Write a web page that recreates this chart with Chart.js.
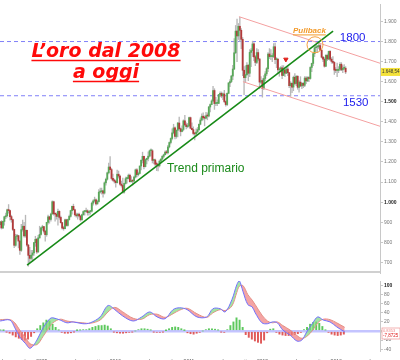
<!DOCTYPE html>
<html>
<head>
<meta charset="utf-8">
<title>L'oro dal 2008 a oggi</title>
<script src="https://cdn.jsdelivr.net/npm/chart.js@4.4.1/dist/chart.umd.min.js"></script>
<style>
  body { margin: 0; background: #fff; }
  .panel { position: absolute; left: 0; }
</style>
</head>
<body>
<canvas id="price" class="panel" width="400" height="277" style="top:0"></canvas>
<canvas id="osc" class="panel" width="400" height="83" style="top:277px"></canvas>
<script>
// weekly gold candles, first week of Jun 2008 -> mid Feb 2013 (USD/oz)
const opens = [
  888,902,872,904,927,932,962,958,928,913, 864,785,829,833,806,760,863,880,832,860,
  786,735,720,736,747,798,815,752,822,839, 872,878,855,838,899,927,914,941,1002,942,
  940,929,954,924,898,871,868,912,884,913, 929,958,979,962,937,932,940,931,912,937,
  953,953,957,948,953,955,995,1006,1012,991, 1003,1050,1052,1056,1045,1096,1114,1146,1175,1162,
  1118,1110,1104,1097,1139,1130,1090,1083,1050,1093, 1117,1118,1134,1102,1107,1105,1125,1161,1137,1143,
  1180,1209,1228,1177,1212,1218,1229,1256,1256,1208, 1210,1189,1188,1181,1204,1215,1228,1236,1249,1246,
  1275,1297,1317,1345,1370,1327,1358,1394,1366,1352, 1362,1405,1385,1376,1380,1421,1368,1361,1342,1340,
  1349,1361,1388,1409,1428,1420,1418,1430,1429,1474, 1486,1504,1556,1491,1492,1492,1536,1542,1529,1539,
  1501,1486,1542,1594,1601,1628,1663,1744,1852,1828, 1876,1856,1811,1657,1620,1635,1682,1642,1746,1755,
  1788,1724,1696,1745,1713,1598,1606,1566,1616,1639, 1665,1738,1725,1725,1725,1774,1710,1712,1659,1662,
  1669,1631,1659,1642,1663,1645,1580,1592,1573,1622, 1591,1627,1572,1598,1579,1592,1582,1618,1604,1621,
  1616,1671,1691,1740,1769,1773,1773,1780,1757,1722, 1712,1677,1731,1713,1751,1712,1701,1696,1658,1656,
  1656,1662,1687,1659,1667,1667
];
const highs = [
  905,908,906,930,946,966,988,960,935,915, 866,840,840,835,810,890,910,900,935,860,
  790,775,760,760,800,830,820,835,880,875, 885,880,860,900,935,930,945,1006,1005,945,
  947,965,957,930,900,880,915,915,915,935, 960,980,990,965,945,945,945,935,940,957,
  958,970,962,955,957,1000,1012,1025,1016,1010, 1062,1070,1070,1060,1101,1120,1150,1195,1227,1168,
  1140,1115,1110,1160,1155,1135,1105,1120,1095,1125, 1125,1140,1140,1127,1110,1130,1165,1167,1150,1180,
  1210,1249,1230,1215,1220,1250,1260,1265,1262,1215, 1215,1200,1190,1210,1215,1232,1240,1255,1258,1283,
  1300,1320,1365,1388,1375,1360,1398,1424,1370,1380, 1410,1432,1395,1392,1424,1424,1395,1375,1345,1365,
  1372,1390,1420,1440,1445,1430,1447,1445,1477,1490, 1510,1577,1565,1522,1510,1537,1550,1549,1545,1557,
  1505,1545,1595,1610,1632,1682,1815,1880,1912,1890, 1921,1865,1820,1675,1680,1695,1685,1760,1765,1802,
  1795,1730,1765,1760,1715,1625,1615,1630,1650,1670, 1745,1765,1760,1740,1790,1792,1720,1715,1670,1675,
  1680,1680,1660,1670,1675,1645,1600,1595,1628,1640, 1630,1630,1605,1625,1595,1595,1625,1625,1625,1625,
  1675,1693,1740,1775,1785,1780,1796,1790,1760,1725, 1720,1735,1737,1752,1755,1720,1725,1700,1670,1693,
  1675,1695,1695,1680,1685,1675
];
const lows = [
  870,866,868,885,918,925,945,910,900,858, 773,780,815,772,740,755,855,825,825,780,
  681,700,712,705,735,780,745,750,820,835, 860,845,805,830,890,895,905,940,935,905,
  915,885,915,895,865,860,866,880,880,910, 925,940,960,930,925,915,925,905,910,935,
  935,950,935,935,940,950,985,1000,985,990, 1000,1045,1040,1025,1040,1085,1110,1140,1170,1110,
  1105,1095,1075,1095,1120,1085,1075,1045,1045,1090, 1095,1115,1100,1100,1085,1100,1120,1125,1130,1140,
  1160,1195,1165,1175,1190,1205,1225,1230,1195,1190, 1180,1157,1155,1175,1195,1210,1220,1235,1240,1240,
  1270,1290,1310,1340,1315,1318,1325,1360,1330,1350, 1355,1380,1365,1370,1375,1365,1360,1335,1310,1330,
  1345,1355,1385,1405,1410,1380,1415,1410,1425,1450, 1485,1500,1462,1480,1480,1490,1525,1520,1510,1495,
  1478,1480,1540,1575,1595,1610,1660,1740,1700,1810, 1800,1765,1630,1535,1600,1630,1605,1625,1675,1725,
  1705,1680,1690,1705,1565,1590,1523,1560,1605,1630, 1650,1715,1710,1700,1720,1690,1670,1640,1627,1650,
  1615,1630,1625,1640,1630,1570,1527,1545,1555,1585, 1580,1562,1548,1575,1565,1570,1575,1590,1600,1600,
  1612,1650,1680,1725,1750,1745,1765,1755,1718,1700, 1672,1675,1705,1710,1705,1692,1690,1636,1645,1625,
  1645,1655,1655,1645,1660,1640
];
const closes = [
  902,872,904,927,932,962,958,928,913,864, 785,829,833,806,760,863,880,832,860,786,
  735,720,736,747,798,815,752,822,839,872, 878,855,838,899,927,914,941,1002,942,940,
  929,954,924,898,871,868,912,884,913,929, 958,979,962,937,932,940,931,912,937,953,
  953,957,948,953,955,995,1006,1012,991,1003, 1050,1052,1056,1045,1096,1114,1146,1175,1162,1118,
  1110,1104,1097,1139,1130,1090,1083,1050,1093,1117, 1118,1134,1102,1107,1105,1125,1161,1137,1143,1180,
  1209,1228,1177,1212,1218,1229,1256,1256,1208,1210, 1189,1188,1181,1204,1215,1228,1236,1249,1246,1275,
  1297,1317,1345,1370,1327,1358,1394,1366,1352,1362, 1405,1385,1376,1380,1421,1368,1361,1342,1340,1349,
  1361,1388,1409,1428,1420,1418,1430,1429,1474,1486, 1504,1556,1491,1492,1492,1536,1542,1529,1539,1501,
  1486,1542,1594,1601,1628,1663,1744,1852,1828,1876, 1856,1811,1657,1620,1635,1682,1642,1746,1755,1788,
  1724,1696,1745,1713,1598,1606,1566,1616,1639,1665, 1738,1725,1725,1725,1774,1710,1712,1659,1662,1669,
  1631,1659,1642,1663,1645,1580,1592,1573,1622,1591, 1627,1572,1598,1579,1592,1582,1618,1604,1621,1616,
  1671,1691,1740,1769,1773,1773,1780,1757,1722,1712, 1677,1731,1713,1751,1712,1701,1696,1658,1656,1656,
  1662,1687,1659,1667,1667,1648.54
];
const weekStart = 5.2;        // months counted from Jan 2008
const weekStep = 7 / 30.44;

const priceTicks = [700, 800, 900, 1000, 1100, 1200, 1300, 1400, 1500, 1600, 1700, 1800, 1900];
const levels = [1800, 1530];
const trendLine = [[9.6, 686], [59.5, 1852]];
const channelHigh = [[44.15, 1924], [67.15, 1692]];
const channelLow = [[44.8, 1600], [67.15, 1378]];
const pullbackAt = [56.55, 1784];
const signalAt = [51.8, 1711];

const monthTicks = [6, 9, 12, 15, 18, 21, 24, 27, 30, 33, 36, 39, 42, 45, 48, 51, 54, 57, 60, 63, 66];
const monthLabels = ['lug', 'ott', '2009', 'apr', 'lug', 'ott', '2010', 'apr', 'lug', 'ott', '2011',
  'apr', 'lug', 'ott', '2012', 'apr', 'lug', 'ott', '2013', 'apr', 'lug'];

// oscillator (lower panel)
const oscMonths = [5.2, 6.8, 7.6, 8.4, 9.3, 10.1, 11.2, 12.2, 13.3, 13.8, 15.0, 16.1, 17.1, 18.7, 19.9,
  21.5, 22.8, 23.9, 25.2, 26.9, 28.3, 29.6, 30.8, 32.1, 33.4, 34.5, 35.7, 37.3, 38.9, 39.9, 41.1, 41.9,
  43.0, 43.8, 44.2, 44.8, 45.6, 46.3, 46.8, 47.9, 48.8, 49.6, 50.4, 51.3, 52.5, 53.6, 54.4, 55.2, 56.2,
  57.0, 57.9, 59.0, 60.1, 61.4];
const oscFast = [22, 24, 7, -13, -27, -38, -20, 7, 27, 29, 24, 18, 20, 16, 18, 31, 56, 47, 33, 22,
  31, 42, 31, 27, 47, 51, 47, 31, 31, 49, 49, 42, 69, 102, 111, 87, 58, 53, 40, 18,
  16, 20, 18, 2, -9, -22, -20, -2, 18, 31, 24, 20, 9, -2];
const oscSlow = [25, 25, 18, 2, -14, -28, -30, -12, 10, 18, 26, 22, 20, 18, 17, 24, 42, 52, 42, 28,
  26, 36, 37, 30, 38, 46, 50, 38, 30, 40, 47, 45, 55, 85, 98, 100, 80, 68, 58, 35,
  22, 18, 20, 12, 2, -10, -16, -12, 2, 18, 26, 25, 18, 8];
const histStart = 5.25;
const histValues = [2, 1, -2, -5, -9, -13, -16, -19, -20, -18, -12, -4,
  5, 12, 18, 24, 22, 15, 8, 2, -3, -5, -5, -4,
  -2, 1, 2, 3, 3, 5, 8, 10, 12, 12, 13, 11,
  5, -2, -4, -5, -5, -4, -3, -2, 0, 3, 5, 5,
  4, 2, -2, -3, -3, -2, 1, 5, 8, 9, 8, 5,
  1, -4, -6, -7, -5, -3, 0, 3, 5, 5, 4, 2,
  -2, -3, 3, 12, 20, 29, 24, 8, -8, -14, -18, -22,
  -25, -27, -20, -4, 4, 5, -3, -7, -9, -10, -10, -9,
  -8, -6, -3, 3, 8, 15, 19, 20, 17, 10, 2, -3,
  -7, -9, -10, -9, -7];
const oscTicks = [-40, -20, 0, 20, 40, 60, 80, 100];

const xMin = 5.18, xMax = 67.15;
const axisGray = '#c8c8c8';

function itNum(v) {
  if (Math.abs(v) < 1000) return String(v);
  return Math.floor(v / 1000) + '.' + String(v % 1000).padStart(3, '0');
}

function tickVal(c) {
  return c && c.tick ? c.tick.value : null;
}

function tickFont(bold) {
  return { family: 'Liberation Sans', size: 5, weight: bold ? 'bold' : 'normal' };
}

function underlined(ctx, text, x, y, lineY, lw) {
  ctx.fillText(text, x, y);
  const w = ctx.measureText(text).width;
  let x0 = x;
  if (ctx.textAlign === 'center') x0 = x - w / 2;
  ctx.lineWidth = lw;
  ctx.beginPath();
  ctx.moveTo(x0, lineY);
  ctx.lineTo(x0 + w, lineY);
  ctx.stroke();
}

const weekMonths = closes.map((c, i) => weekStart + i * weekStep);
const pts = arr => arr.map(p => ({ x: p[0], y: p[1] }));

const priceNotes = {
  id: 'priceNotes',
  afterDraw(chart) {
    const { ctx, scales: { x, y }, chartArea } = chart;
    ctx.save();

    // title
    ctx.fillStyle = '#ff0a0a';
    ctx.strokeStyle = '#ff0a0a';
    ctx.font = 'italic bold 19px "DejaVu Sans"';
    ctx.textAlign = 'center';
    underlined(ctx, 'L’oro dal 2008', 106, 57, 60.5, 1.6);
    underlined(ctx, 'a oggi', 106, 78, 81.5, 1.6);

    // level labels
    ctx.fillStyle = '#2020ee';
    ctx.font = '11.5px "Liberation Sans"';
    ctx.textAlign = 'left';
    ctx.fillText('1800', x.getPixelForValue(60.6), y.getPixelForValue(levels[0]) - 1);
    ctx.fillText('1530', x.getPixelForValue(61.1), y.getPixelForValue(levels[1]) + 10.5);

    // pullback
    ctx.fillStyle = '#f39a2a';
    ctx.strokeStyle = '#f39a2a';
    ctx.font = 'italic bold 8px "Liberation Sans"';
    const pbY = y.getPixelForValue(1842);
    underlined(ctx, 'Pullback', x.getPixelForValue(52.96), pbY, pbY + 1.8, 1);

    // trend label
    ctx.fillStyle = '#1a8a1a';
    ctx.font = '12px "Liberation Sans"';
    ctx.fillText('Trend primario', x.getPixelForValue(32.4), y.getPixelForValue(1150));

    // last price box
    const last = closes[closes.length - 1];
    const ly = y.getPixelForValue(last);
    ctx.fillStyle = '#f4e23a';
    ctx.fillRect(chartArea.right + 1, ly - 4, 19, 8);
    ctx.fillStyle = '#333';
    ctx.font = '4.5px "Liberation Sans"';
    ctx.textBaseline = 'middle';
    ctx.fillText('1.648,54', chartArea.right + 2, ly);

    // panel separator
    ctx.strokeStyle = '#d0d0d0';
    ctx.lineWidth = 2;
    ctx.beginPath();
    ctx.moveTo(0, chartArea.bottom - 1);
    ctx.lineTo(chartArea.right, chartArea.bottom - 1);
    ctx.stroke();
    ctx.restore();
  }
};

new Chart(document.getElementById('price'), {
  type: 'bar',
  data: {
    datasets: [
      {
        type: 'line', data: pts([pullbackAt]), showLine: false, pointRadius: 8,
        pointBorderColor: '#f5a040', pointBackgroundColor: 'rgba(0,0,0,0)', pointBorderWidth: 1, order: 0
      },
      {
        type: 'line', data: pts([signalAt]), showLine: false, pointStyle: 'triangle', rotation: 180,
        pointRadius: 2.5, pointBackgroundColor: '#e0201a', pointBorderColor: '#e0201a', order: 0
      },
      {
        type: 'line', data: pts(trendLine), borderColor: '#178a17', borderWidth: 1.6,
        pointRadius: 0, order: 1
      },
      {
        type: 'line', data: pts(channelHigh), borderColor: '#f4a0a0', borderWidth: 1,
        pointRadius: 0, order: 2
      },
      {
        type: 'line', data: pts(channelLow), borderColor: '#f4a0a0', borderWidth: 1,
        pointRadius: 0, order: 2
      },
      {
        data: weekMonths.map((m, i) => ({ x: m, y: [opens[i], closes[i]] })),
        backgroundColor: closes.map((c, i) => c >= opens[i] ? '#58a858' : '#b23a3a'),
        barThickness: 1.2, minBarLength: 1, grouped: false, order: 5
      },
      {
        data: weekMonths.map((m, i) => ({ x: m, y: [lows[i], highs[i]] })),
        backgroundColor: '#b8b8b8', barThickness: 0.7, grouped: false, order: 6
      },
      ...levels.map(v => ({
        type: 'line', data: [{ x: xMin, y: v }, { x: xMax, y: v }], borderColor: '#8080f8',
        borderWidth: 1, borderDash: [4, 3], pointRadius: 0, order: 7
      }))
    ]
  },
  options: {
    responsive: false,
    animation: false,
    events: [],
    layout: { padding: 0, autoPadding: false },
    plugins: { legend: { display: false }, tooltip: { enabled: false } },
    scales: {
      x: { type: 'linear', min: xMin, max: xMax, offset: false, display: false },
      y: {
        position: 'right', min: 647, max: 1987,
        afterBuildTicks: s => { s.ticks = priceTicks.map(v => ({ value: v })); },
        afterFit: s => { s.width = 20; },
        grid: { drawOnChartArea: false, tickLength: 3, color: axisGray },
        border: { color: axisGray },
        ticks: {
          padding: 1,
          color: c => [1000, 1500].includes(tickVal(c)) ? '#222' : '#777',
          font: c => tickFont([1000, 1500].includes(tickVal(c))),
          callback: v => itNum(v)
        }
      }
    }
  },
  plugins: [priceNotes]
});

const oscNotes = {
  id: 'oscNotes',
  afterDraw(chart) {
    const { ctx, scales: { y }, chartArea } = chart;
    const zy = y.getPixelForValue(0);
    ctx.save();
    ctx.fillStyle = '#fff';
    ctx.strokeStyle = '#f0a0a0';
    ctx.lineWidth = 0.8;
    ctx.fillRect(chartArea.right + 2, zy - 3, 18, 11);
    ctx.strokeRect(chartArea.right + 2, zy - 3, 18, 11);
    ctx.font = '4px "Liberation Sans"';
    ctx.textBaseline = 'middle';
    ctx.fillStyle = '#e88';
    ctx.fillText('0,8353', chartArea.right + 3, zy);
    ctx.fillStyle = '#e02020';
    ctx.font = '4.5px "Liberation Sans"';
    ctx.fillText('-7,8725', chartArea.right + 3, zy + 5);
    ctx.restore();
  }
};

new Chart(document.getElementById('osc'), {
  type: 'bar',
  data: {
    datasets: [
      {
        type: 'line', data: oscMonths.map((m, i) => ({ x: m, y: oscFast[i] })),
        borderColor: '#7070ff', borderWidth: 1, pointRadius: 0, tension: 0.35,
        fill: { target: 1, above: 'rgba(125,215,125,0.7)', below: 'rgba(240,125,125,0.7)' }, order: 1
      },
      {
        type: 'line', data: oscMonths.map((m, i) => ({ x: m, y: oscSlow[i] })),
        borderColor: '#f28a8a', borderWidth: 1, pointRadius: 0, tension: 0.35, fill: false, order: 2
      },
      {
        data: histValues.map((v, i) => ({ x: histStart + i * 0.5, y: v })),
        backgroundColor: histValues.map(v => v >= 0 ? '#5cc85c' : '#e05a5a'),
        barThickness: 1.3, grouped: false, order: 3
      }
    ]
  },
  options: {
    responsive: false,
    animation: false,
    events: [],
    layout: { padding: { top: 3 }, autoPadding: false },
    plugins: { legend: { display: false }, tooltip: { enabled: false } },
    scales: {
      x: {
        type: 'linear', min: xMin, max: xMax, offset: false,
        afterBuildTicks: s => { s.ticks = monthTicks.map(v => ({ value: v })); },
        afterFit: s => { s.height = 9; },
        grid: { display: false },
        border: { display: false },
        ticks: {
          padding: 0, maxRotation: 0, autoSkip: false, color: '#555',
          font: tickFont(false),
          callback: (v, i) => monthLabels[i]
        }
      },
      y: {
        position: 'right', min: -44, max: 110,
        afterBuildTicks: s => { s.ticks = oscTicks.map(v => ({ value: v })); },
        afterFit: s => { s.width = 20; },
        grid: {
          color: c => tickVal(c) === 0 ? '#c4c4ff' : 'rgba(0,0,0,0)',
          lineWidth: c => tickVal(c) === 0 ? 2.5 : 1,
          tickColor: axisGray, tickLength: 3
        },
        border: { color: axisGray },
        ticks: {
          padding: 1,
          color: c => tickVal(c) === 100 ? '#222' : '#777',
          font: c => tickFont(tickVal(c) === 100),
          callback: v => v === 0 ? '' : v
        }
      }
    }
  },
  plugins: [oscNotes]
});
</script>
</body>
</html>
